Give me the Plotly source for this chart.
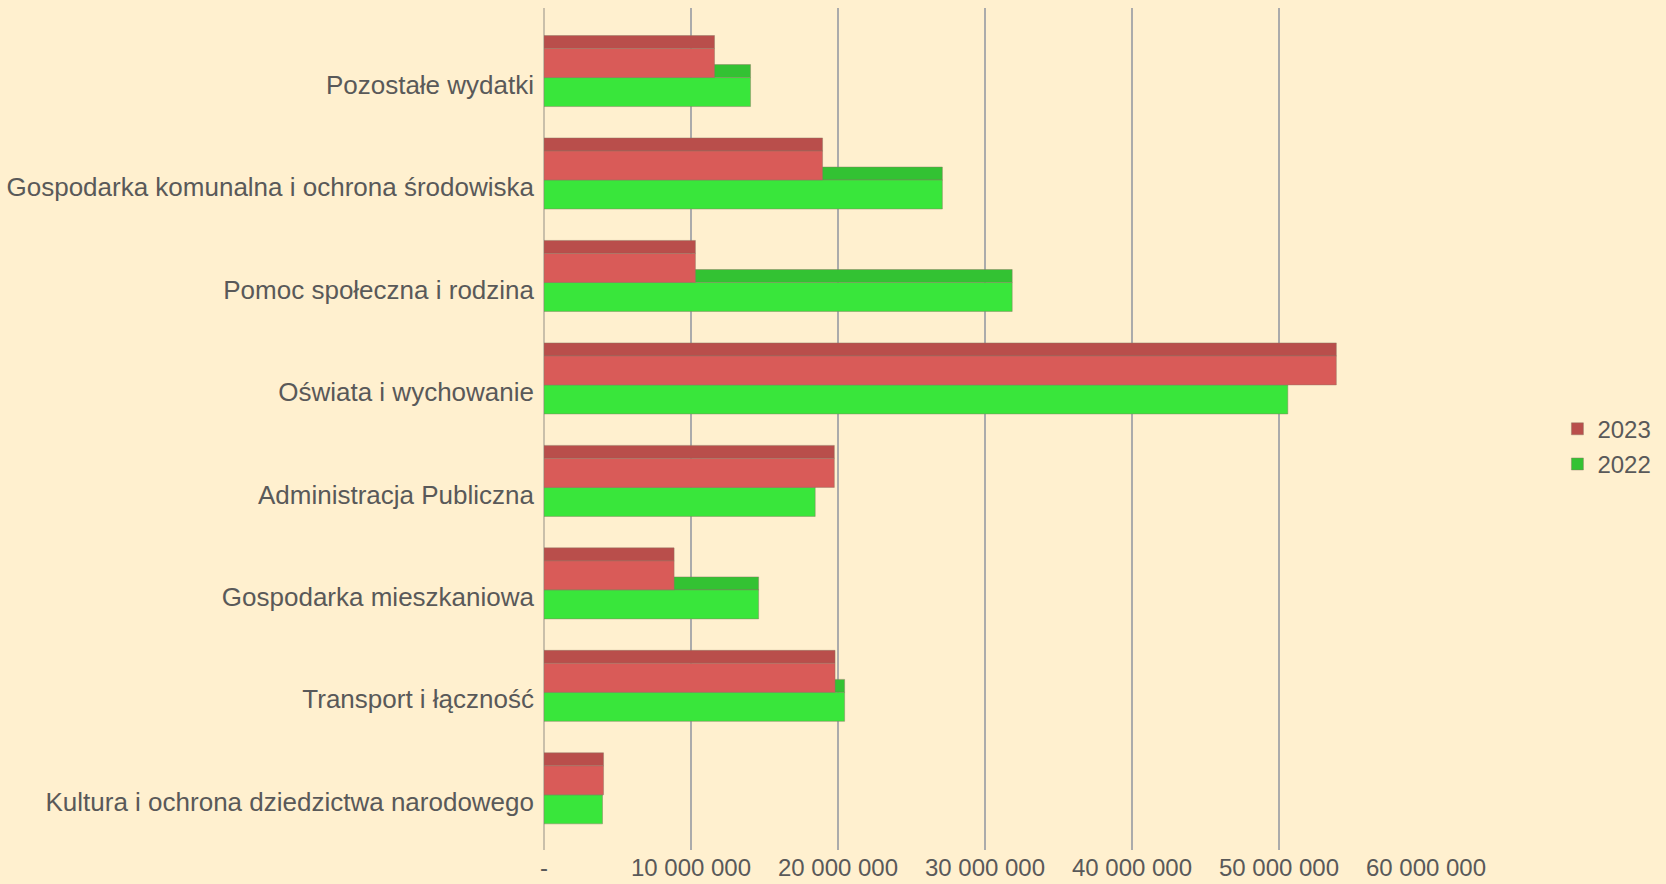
import plotly.graph_objects as go

# Categories listed top to bottom as they appear on the chart
categories = [
    'Pozostałe wydatki',
    'Gospodarka komunalna i ochrona środowiska',
    'Pomoc społeczna i rodzina',
    'Oświata i wychowanie',
    'Administracja Publiczna',
    'Gospodarka mieszkaniowa',
    'Transport i łączność',
    'Kultura i ochrona dziedzictwa narodowego',
]
values_2023 = [11600000, 18950000, 10300000, 53900000, 19750000, 8850000, 19800000, 4050000]
values_2022 = [14050000, 27100000, 31850000, 50600000, 18450000, 14600000, 20450000, 3980000]

x_tickvals = [0, 10000000, 20000000, 30000000, 40000000, 50000000, 60000000]
x_ticktext = ['-', '10 000 000', '20 000 000', '30 000 000', '40 000 000', '50 000 000', '60 000 000']

BG = '#FFF0CF'
TEXT = '#595959'
RED_FRONT = '#D95B58'
RED_TOP = '#B94E4B'
GREEN_FRONT = '#39E63B'
GREEN_TOP = '#33C233'
EDGE = 'rgba(140,120,100,0.45)'

ypos = list(range(len(categories)))

fig = go.Figure()

# faux 3D: a darker "top face" strip above each bar's front face
layers = [
    ('2022', values_2022, GREEN_TOP, -0.195, 0.127, True),
    ('2022', values_2022, GREEN_FRONT, -0.0684, 0.283, False),
    ('2023', values_2023, RED_TOP, -0.4785, 0.127, True),
    ('2023', values_2023, RED_FRONT, -0.3516, 0.283, False),
]
for name, vals, color, offset, width, legend in layers:
    fig.add_trace(go.Bar(
        x=vals,
        y=ypos,
        orientation='h',
        name=name,
        offset=offset,
        width=width,
        marker=dict(color=color, line=dict(width=1, color=EDGE)),
        showlegend=legend,
        legendgroup=name,
        legendrank=1 if name == '2023' else 2,
        hovertemplate='%{x:,.0f}<extra>' + name + '</extra>',
    ))

fig.update_layout(
    barmode='overlay',
    width=1666,
    height=884,
    plot_bgcolor=BG,
    paper_bgcolor=BG,
    margin=dict(l=544, r=240, t=8, b=34, autoexpand=False),
    font=dict(family='Liberation Sans, Arial, sans-serif', size=24, color=TEXT),
    legend=dict(
        x=1.149, y=0.479, xanchor='left', yanchor='middle',
        bgcolor='rgba(0,0,0,0)', font=dict(size=24, color=TEXT),
        itemwidth=30, tracegroupgap=1,
    ),
    showlegend=True,
)

fig.update_xaxes(
    range=[0, 60000000],
    tickvals=x_tickvals,
    ticktext=x_ticktext,
    showgrid=True,
    gridcolor='#ABABAB',
    gridwidth=2,
    zeroline=True,
    zerolinecolor='#C9BFAA',
    zerolinewidth=2,
    showline=False,
    ticks='',
    automargin=False,
    ticklabelstandoff=1,
    tickfont=dict(size=24, color=TEXT),
)
fig.update_yaxes(
    range=[7.47, -0.747],
    tickvals=ypos,
    ticktext=categories,
    showgrid=False,
    zeroline=False,
    showline=False,
    ticks='',
    automargin=False,
    ticklabelstandoff=9,
    tickfont=dict(size=26, color=TEXT),
)

fig.write_html(
    'out.html',
    config={'displayModeBar': False},
    post_script="document.body.style.margin='0';",
)
